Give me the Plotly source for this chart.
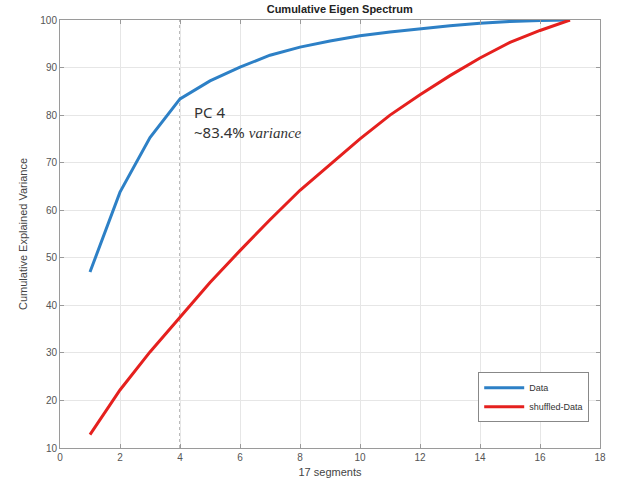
import plotly.graph_objects as go

components = list(range(1, 18))
data_cum = [47.0, 63.8, 75.3, 83.4, 87.2, 90.1, 92.6, 94.3, 95.6, 96.7, 97.5, 98.2, 98.8, 99.3, 99.7, 99.9, 100.0]
shuffled_cum = [12.8, 22.2, 30.2, 37.6, 44.8, 51.5, 58.0, 64.2, 69.6, 75.0, 80.0, 84.3, 88.3, 92.0, 95.3, 97.8, 100.0]
x_ticks = [0, 2, 4, 6, 8, 10, 12, 14, 16, 18]
y_ticks = [10, 20, 30, 40, 50, 60, 70, 80, 90, 100]
pc_mark = 4

fig = go.Figure()
fig.add_trace(go.Scatter(x=components, y=data_cum, mode="lines", name="Data",
                         line=dict(color="#2d80c6", width=3)))
fig.add_trace(go.Scatter(x=components, y=shuffled_cum, mode="lines", name="shuffled-Data",
                         line=dict(color="#e5201e", width=3)))

fig.add_shape(type="line", x0=pc_mark, x1=pc_mark, y0=10, y1=100, xref="x", yref="y",
              line=dict(color="#777777", width=1, dash="dot"), layer="below")

fig.add_annotation(x=pc_mark + 0.4, y=data_cum[3] - 0.3, xref="x", yref="y",
                   text="PC 4<br>~83.4% <span style='font-family:Liberation Serif'><i>variance</i></span>",
                   showarrow=False, xanchor="left", yanchor="top", align="left",
                   font=dict(family="Noto Sans", size=15, color="#333333"))

axis_common = dict(showline=True, linecolor="#9a9a9a", linewidth=1, mirror="ticks",
                   ticks="inside", ticklen=4, tickcolor="#9a9a9a",
                   showgrid=True, gridcolor="#e6e6e6", gridwidth=1, zeroline=False,
                   tickfont=dict(family="Liberation Sans", size=10, color="#555555"))

fig.update_layout(
    width=620, height=491,
    margin=dict(l=60, r=20, t=20, b=43),
    paper_bgcolor="white", plot_bgcolor="white",
    title=dict(text="<b>Cumulative Eigen Spectrum</b>", x=0.548, xanchor="center", y=0.982, yanchor="middle",
               font=dict(family="Liberation Sans", size=11, color="#222222")),
    xaxis=dict(range=[0, 18], tickvals=x_ticks, title=dict(text="17 segments", standoff=6,
               font=dict(family="Liberation Sans", size=11, color="#444444")), **axis_common),
    yaxis=dict(range=[10, 100], tickvals=y_ticks, title=dict(text="Cumulative Explained Variance", standoff=10,
               font=dict(family="Liberation Sans", size=11, color="#444444")), **axis_common),
    legend=dict(x=0.98, y=0.06, xanchor="right", yanchor="bottom", bgcolor="white",
                bordercolor="#888888", borderwidth=1,
                font=dict(family="Liberation Sans", size=9, color="#333333"),
                tracegroupgap=0, itemwidth=40),
    showlegend=True,
)

fig.write_html("out.html")
